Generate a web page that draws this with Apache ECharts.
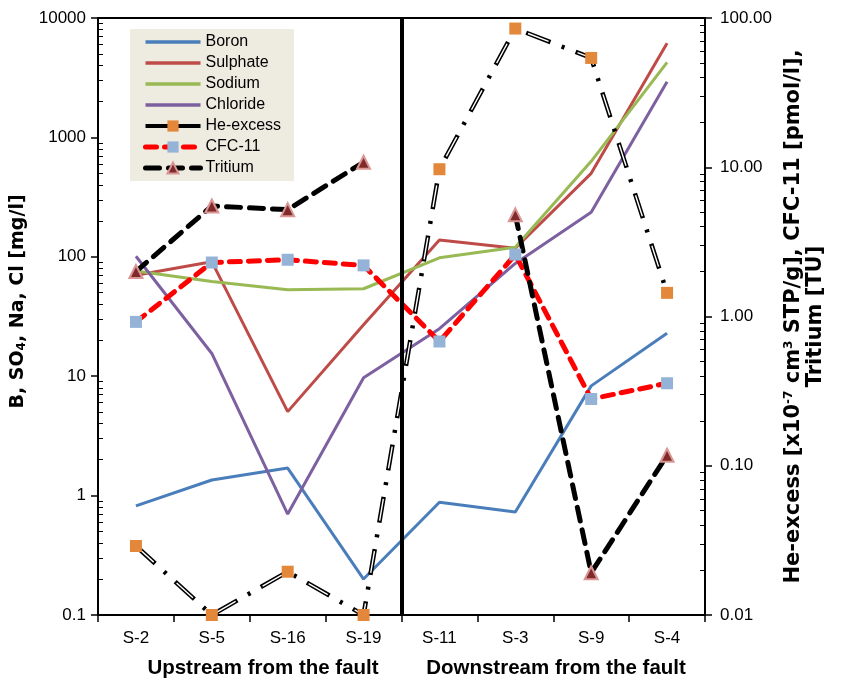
<!DOCTYPE html>
<html><head><meta charset="utf-8">
<script src="https://cdn.jsdelivr.net/npm/echarts@6/dist/echarts.min.js"></script>
<style>html,body{margin:0;padding:0;background:#fff}#c{width:848px;height:687px}</style>
</head><body><div id="c"></div>
<script>
const categories = ['S-2', 'S-5', 'S-16', 'S-19', 'S-11', 'S-3', 'S-9', 'S-4'];
const boron    = [0.82, 1.35, 1.70, 0.20, 0.88, 0.73, 8.3, 22.9];
const sulphate = [70, 91, 5.05, 27, 138, 118, 500, 6150];
const sodium   = [76, 62, 53, 54, 98, 120, 630, 4250];
const chloride = [101, 15.5, 0.70, 9.7, 25, 88, 236, 2930];
const heExcess = [0.029, 0.01, 0.0195, 0.01, 9.7, 85, 54, 1.44];
const cfc11    = [0.92, 2.3, 2.4, 2.2, 0.68, 2.6, 0.28, 0.357];
const tritium  = [2.0, 5.5, 5.2, 10.8, null, 4.8, 0.0192, 0.1175];
const faultPosition = 4; // boundary between S-19 and S-11 (category index units)
const regionLabels = ['Upstream from the fault', 'Downstream from the fault'];

const FONT = 'Liberation Sans';
const TFONT = 'DejaVu Sans';
const chart = echarts.init(document.getElementById('c'));

function solid(name, data, color) {
  return { name, type: 'line', xAxisIndex: 0, yAxisIndex: 0, data, symbol: 'none',
    lineStyle: { color, width: 3 }, itemStyle: { color }, clip: false, z: 3 };
}
const solidLegend = name => ({ name, itemStyle: { opacity: 0 }, lineStyle: { width: 3.5 } });

const option = {
  animation: false,
  backgroundColor: '#fff',
  grid: [
    { left: 98, right: 143, top: 18, bottom: 72, show: true, borderColor: '#000', borderWidth: 2, backgroundColor: 'transparent' },
    { left: 98, right: 143, top: 18, bottom: 72, show: false }
  ],
  legend: {
    orient: 'vertical', left: 130, top: 29, itemWidth: 55, itemHeight: 14, itemGap: 5,
    padding: [5, 13, 5, 13], backgroundColor: '#EEECE1',
    textStyle: { fontSize: 16, color: '#000', fontFamily: FONT },
    data: [
      solidLegend('Boron'), solidLegend('Sulphate'), solidLegend('Sodium'), solidLegend('Chloride'),
      { name: 'He-excess', lineStyle: { color: '#000', width: 4, type: 'solid' } },
      { name: 'CFC-11', lineStyle: { width: 5 } },
      { name: 'Tritium', lineStyle: { width: 5 } }
    ]
  },
  xAxis: [
    {
      type: 'category', gridIndex: 0, data: categories, boundaryGap: true,
      axisLine: { lineStyle: { color: '#000', width: 2 } },
      axisTick: { show: true, length: 7, lineStyle: { color: '#000', width: 1.5 } },
      axisLabel: { fontSize: 17, color: '#000', margin: 15, fontFamily: FONT },
      splitLine: { show: false }
    },
    { type: 'value', gridIndex: 1, min: 0, max: categories.length, show: false }
  ],
  yAxis: [
    {
      type: 'log', logBase: 10, min: 0.1, max: 10000, gridIndex: 0, position: 'left',
      axisLine: { show: true, lineStyle: { color: '#000', width: 2 } },
      axisTick: { show: true, length: 7, lineStyle: { color: '#000', width: 1.5 } },
      axisLabel: { fontSize: 17, color: '#000', margin: 12, fontFamily: FONT, formatter: v => String(v) },
      splitLine: { show: false },
      name: '{t|B, SO}{s|4}{t|, Na, Cl [mg/l]}', nameLocation: 'middle', nameGap: 57, nameRotate: 90,
      nameTextStyle: { padding: [0, 0, 0, 30], rich: {
        t: { fontSize: 19, fontWeight: 'bold', fontFamily: TFONT, color: '#000' },
        s: { fontSize: 12, fontWeight: 'bold', fontFamily: TFONT, color: '#000', verticalAlign: 'bottom', padding: [8, 0, 0, 0] }
      } }
    },
    {
      type: 'log', logBase: 10, min: 0.01, max: 100, gridIndex: 0, position: 'right',
      axisLine: { show: true, lineStyle: { color: '#000', width: 2 } },
      axisTick: { show: true, length: 7, lineStyle: { color: '#000', width: 1.5 } },
      axisLabel: { fontSize: 17, color: '#000', margin: 15, fontFamily: FONT, formatter: v => Number(v).toFixed(2) },
      splitLine: { show: false },
      name: '{t|He-excess [x10}{p|-7}{t| cm}{p|3}{t| STP/g], CFC-11 [pmol/l],}\n{t|Tritium [TU]}',
      nameLocation: 'middle', nameGap: 78, nameRotate: 90,
      nameTextStyle: { align: 'center', lineHeight: 22, rich: {
        t: { fontSize: 21, fontWeight: 'bold', fontFamily: TFONT, color: '#000', lineHeight: 22 },
        p: { fontSize: 12, fontWeight: 'bold', fontFamily: TFONT, color: '#000', verticalAlign: 'top', padding: [0, 0, 8, 0], lineHeight: 22 }
      } }
    },
    {
      type: 'log', logBase: 10, min: 0.1, max: 10000, gridIndex: 1, position: 'left',
      axisLine: { show: false }, axisLabel: { show: false }, splitLine: { show: false },
      axisTick: { show: false, inside: true },
      minorTick: { show: true, splitNumber: 9, length: 5, lineStyle: { color: '#000', width: 1 } }
    },
    {
      type: 'log', logBase: 10, min: 0.01, max: 100, gridIndex: 1, position: 'right',
      axisLine: { show: false }, axisLabel: { show: false }, splitLine: { show: false },
      axisTick: { show: false, inside: true },
      minorTick: { show: true, splitNumber: 9, length: 5, lineStyle: { color: '#000', width: 1 } }
    }
  ],
  graphic: [
    { type: 'text', x: 263, y: 668, style: { text: regionLabels[0], textAlign: 'center', textVerticalAlign: 'middle',
      fontSize: 20.5, fontWeight: 'bold', fontFamily: FONT, fill: '#000' } },
    { type: 'text', x: 556, y: 668, style: { text: regionLabels[1], textAlign: 'center', textVerticalAlign: 'middle',
      fontSize: 20.5, fontWeight: 'bold', fontFamily: FONT, fill: '#000' } }
  ],
  series: [
    {
      name: 'fault', type: 'line', xAxisIndex: 1, yAxisIndex: 2, data: [], silent: true,
      markLine: { symbol: 'none', silent: true, label: { show: false },
        lineStyle: { color: '#000', width: 4, type: 'solid' },
        data: [{ xAxis: faultPosition }] }
    },
    solid('Boron', boron, '#4A7EBB'),
    solid('Sulphate', sulphate, '#BE4B48'),
    solid('Sodium', sodium, '#98B954'),
    solid('Chloride', chloride, '#7D60A0'),
    {
      name: 'He-excess outline', type: 'line', xAxisIndex: 0, yAxisIndex: 1, data: heExcess, clip: false,
      symbol: 'none', silent: true,
      lineStyle: { color: '#000', width: 4.5, type: [26, 12, 3, 12] }, z: 4
    },
    {
      name: 'He-excess', type: 'line', xAxisIndex: 0, yAxisIndex: 1, data: heExcess, clip: false,
      symbol: 'rect', symbolSize: 12, itemStyle: { color: '#E3883A' },
      lineStyle: { color: '#FFFFFF', width: 1.4, type: [22, 31], dashOffset: 51 }, z: 4
    },
    {
      name: 'CFC-11', type: 'line', xAxisIndex: 0, yAxisIndex: 1, data: cfc11, clip: false,
      symbol: 'rect', symbolSize: 12, itemStyle: { color: '#95B3D7' },
      lineStyle: { color: '#FF0000', width: 5, type: [11, 8], cap: 'round' }, z: 4
    },
    {
      name: 'Tritium', type: 'line', xAxisIndex: 0, yAxisIndex: 1, data: tritium, clip: false,
      symbol: 'triangle', symbolSize: 13, itemStyle: { color: '#7F2B2B', borderColor: '#DA9694', borderWidth: 2 },
      lineStyle: { color: '#000', width: 5, type: [14, 9], cap: 'round' }, z: 4
    }
  ]
};
chart.setOption(option);
</script>
</body></html>
